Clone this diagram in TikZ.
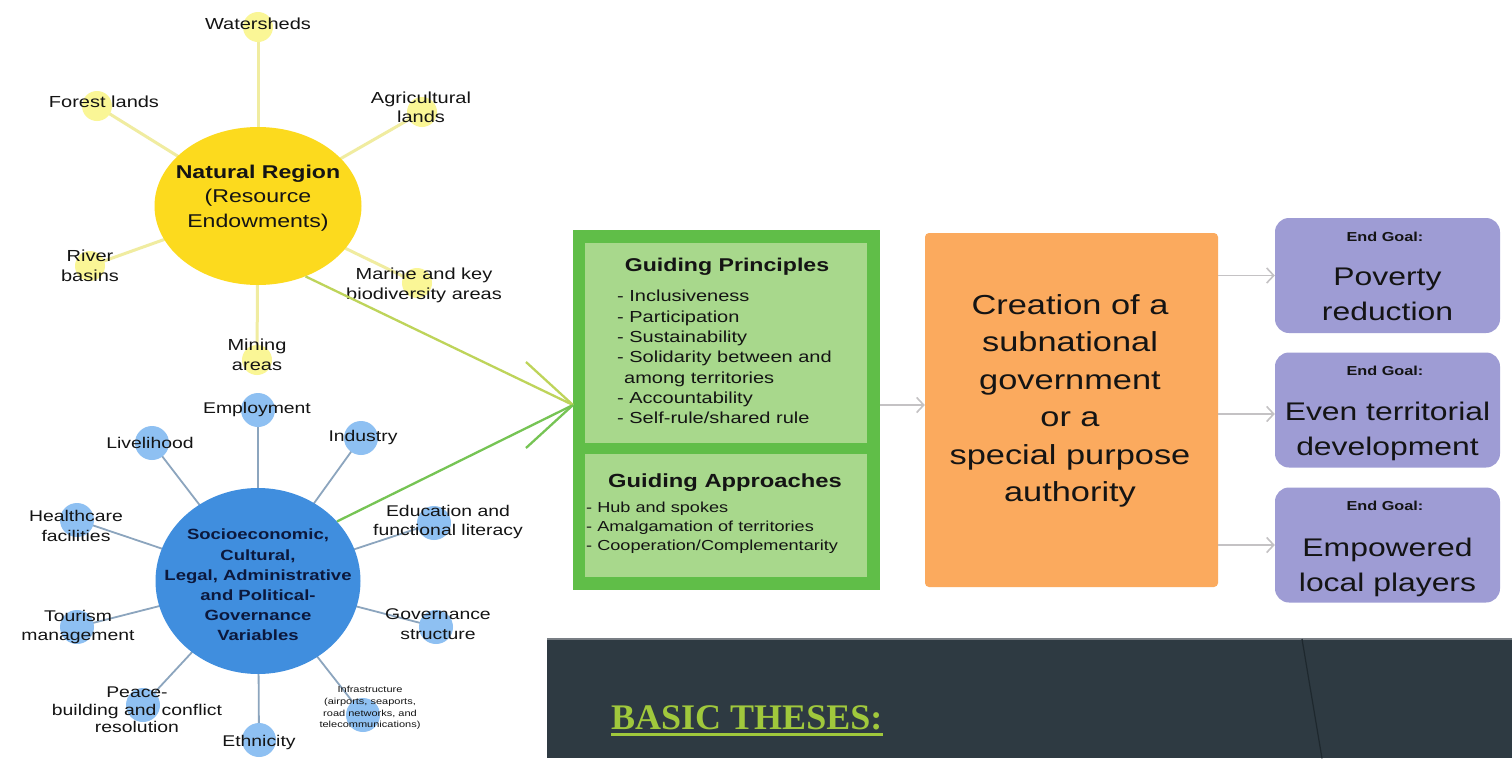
\documentclass[tikz,border=0pt]{standalone}
\usepackage{fontspec}
\setmainfont{Liberation Sans}[FakeStretch=1.25]
\newfontfamily\thesesfont{Liberation Serif}
\usetikzlibrary{arrows.meta,shapes.geometric}
\pgfdeclarelayer{paper}
\pgfdeclarelayer{bg}
\pgfsetlayers{paper,bg,main}
\newcommand\myfs[2]{\fontsize{#1}{#2}\selectfont}
\definecolor{yelbig}{RGB}{252,218,30}
\definecolor{yelsmall}{RGB}{250,246,150}
\definecolor{yelline}{RGB}{240,236,160}
\definecolor{bluebig}{RGB}{64,142,222}
\definecolor{bluesmall}{RGB}{142,192,242}
\definecolor{blueline}{RGB}{140,165,190}
\definecolor{navytext}{RGB}{12,24,60}
\definecolor{greenouter}{RGB}{96,190,72}
\definecolor{greeninner}{RGB}{168,216,140}
\definecolor{orangebox}{RGB}{251,170,94}
\definecolor{purplebox}{RGB}{158,156,212}
\definecolor{darkpanel}{RGB}{46,58,66}
\definecolor{panelline}{RGB}{30,40,46}
\definecolor{paneltop}{RGB}{120,126,132}
\definecolor{thesesgreen}{RGB}{160,200,60}
\definecolor{arrowgray}{RGB}{196,194,196}
\definecolor{linkyellow}{RGB}{190,212,90}
\definecolor{linkgreen}{RGB}{118,196,84}
\definecolor{txt}{RGB}{20,20,20}
\tikzset{
  ybig/.style={ellipse, fill=yelbig, minimum width=207pt, minimum height=158pt, inner sep=0pt},
  ysmall/.style={circle, fill=yelsmall, minimum size=30pt, inner sep=0pt},
  bbig/.style={ellipse, fill=bluebig, minimum width=205pt, minimum height=186pt, inner sep=0pt},
  bsmall/.style={circle, fill=bluesmall, minimum size=34pt, inner sep=0pt},
  ylink/.style={draw=yelline, line width=3pt},
  blink/.style={draw=blueline, line width=1.8pt},
  ylbl/.style={align=center, inner sep=0pt, text=txt, font=\myfs{16}{20}},
  blbl/.style={align=center, inner sep=0pt, text=txt, font=\myfs{15.5}{19.5}},
  panelbox/.style={rectangle, inner sep=0pt},
  flowarrow/.style={draw=arrowgray, line width=1.6pt, -{Straight Barb[length=7pt,width=15pt,line width=1.6pt]}},
  bigarm/.style={line width=2.3pt},
  goalbox/.style={rectangle, rounded corners=14pt, fill=purplebox, minimum width=225pt, minimum height=115pt, inner sep=0pt},
  goalhead/.style={inner sep=0pt, text=txt, font=\bfseries\myfs{13}{15}},
  goaltext/.style={inner sep=0pt, align=center, text=txt, font=\myfs{25.5}{35}},
}
\begin{document}
\begin{tikzpicture}[x=1pt,y=-1pt]
\useasboundingbox (0,0) rectangle (1512,758);
\begin{pgfonlayer}{paper}
\fill[white] (0,0) rectangle (1512,758);
\end{pgfonlayer}

% ---------- natural region cluster ----------
\node[ybig] (nr) at (258,206) {};
\node[ysmall] (ws) at (258,27) {};
\node[ysmall] (fl) at (97,106) {};
\node[ysmall] (ag) at (422,112) {};
\node[ysmall] (rb) at (90,266) {};
\node[ysmall] (ma) at (417,283) {};
\node[ysmall] (mi) at (257,360) {};
\node[align=center, inner sep=0pt, text=txt, font=\myfs{18.5}{24.5}] (nrt) at (258,198) {\textbf{Natural Region}\\(Resource\\Endowments)};
\node[ylbl] (wst) at (258,24) {Watersheds};
\node[ylbl] (flt) at (104,102) {Forest lands};
\node[ylbl, font=\myfs{16}{19}] (agt) at (421,107) {Agricultural\\lands};
\node[ylbl] (rbt) at (90,266) {River\\basins};
\node[ylbl] (mat) at (424,285) {Marine and key\\biodiversity areas};
\node[ylbl] (mit) at (257,355) {Mining\\areas};

% ---------- socioeconomic cluster ----------
\node[bbig] (sc) at (258,581) {};
\node[align=center, inner sep=0pt, text=navytext, font=\bfseries\myfs{14.8}{20.2}] (sct) at (258,585) {Socioeconomic,\\Cultural,\\Legal, Administrative\\and Political-\\Governance\\Variables};
\node[bsmall] (em) at (258,410) {};
\node[bsmall] (li) at (152,443) {};
\node[bsmall] (in) at (361,438) {};
\node[bsmall] (hc) at (77,520) {};
\node[bsmall] (ed) at (434,523) {};
\node[bsmall] (to) at (77,627) {};
\node[bsmall] (gv) at (436,627) {};
\node[bsmall] (pe) at (143,705) {};
\node[bsmall] (et) at (259,740) {};
\node[bsmall] (if) at (363,715) {};
\node[blbl] (emt) at (257,409) {Employment};
\node[blbl] (lit) at (150,443) {Livelihood};
\node[blbl] (int) at (363,437) {Industry};
\node[blbl] (edt) at (448,522) {Education and\\functional literacy};
\node[blbl] (hct) at (76,526) {Healthcare\\facilities};
\node[blbl] (tot) at (78,627) {Tourism\\management};
\node[blbl] (gvt) at (438,624) {Governance\\structure};
\node[blbl, font=\myfs{15.5}{17.5}] (pet) at (137,710) {Peace-\\building and conflict\\resolution};
\node[blbl] (ett) at (259,742) {Ethnicity};
\node[blbl, font=\myfs{8.8}{11.8}] (ift) at (370,708) {Infrastructure\\(airports, seaports,\\road networks, and\\telecommunications)};

% ---------- guiding box ----------
\node[panelbox, fill=greenouter, minimum width=307pt, minimum height=360pt] (gbox) at (726.5,410) {};
\node[panelbox, fill=greeninner, minimum width=282pt, minimum height=200pt] (gp) at (726,343) {};
\node[panelbox, fill=greeninner, minimum width=282pt, minimum height=123pt] (ga) at (726,515.5) {};
\node[inner sep=0pt, text=txt, font=\bfseries\myfs{18.5}{22}] (gpt) at (727,267) {Guiding Principles};
\node[anchor=west, align=left, inner sep=0pt, text=txt, font=\myfs{16}{20.3}] (gpl) at (617,357) {- Inclusiveness\\- Participation\\- Sustainability\\- Solidarity between and\\\hspace*{7pt}among territories\\- Accountability\\- Self-rule/shared rule};
\node[inner sep=0pt, text=txt, font=\bfseries\myfs{19}{22}] (gat) at (725,483) {Guiding Approaches};
\node[anchor=west, align=left, inner sep=0pt, text=txt, font=\myfs{14.5}{19}] (gal) at (586,528) {- Hub and spokes\\- Amalgamation of territories\\- Cooperation/Complementarity};

% ---------- creation box ----------
\node[panelbox, rounded corners=4pt, fill=orangebox, minimum width=293pt, minimum height=354pt] (obox) at (1071.5,410) {};
\node[align=center, inner sep=0pt, text=txt, font=\myfs{27.5}{37.5}] (obt) at (1070,401) {Creation of a\\subnational\\government\\or a\\special purpose\\authority};

% ---------- goals ----------
\node[goalbox] (g1) at (1387.5,275.5) {};
\node[goalbox] (g2) at (1387.5,410) {};
\node[goalbox] (g3) at (1387.5,545) {};
\node[goalhead] (g1h) at (1385,237) {End Goal:};
\node[goaltext] (g1t) at (1387.5,294) {Poverty\\reduction};
\node[goalhead] (g2h) at (1385,371) {End Goal:};
\node[goaltext] (g2t) at (1387.5,431) {Even territorial\\development};
\node[goalhead] (g3h) at (1385,506) {End Goal:};
\node[goaltext] (g3t) at (1387.5,567) {Empowered\\local players};

% ---------- bottom panel ----------
\node[panelbox, anchor=north west, fill=darkpanel, minimum width=965pt, minimum height=119pt] (panel) at (547,639) {};
\draw[paneltop, line width=1.5pt] (panel.north west) -- (panel.north east);
\draw[panelline, line width=1.2pt] ([xshift=755pt]panel.north west) -- ([xshift=775pt]panel.south west);
\node[anchor=base west, inner sep=0pt, text=thesesgreen, font=\thesesfont\bfseries\myfs{36}{40}] (th) at (611,729) {BASIC THESES:};
\draw[thesesgreen, line width=3pt] ([yshift=-5.5pt]th.base west) -- ([yshift=-5.5pt]th.base east);

% ---------- connectors ----------
\coordinate (tip) at (573,405);
\begin{pgfonlayer}{bg}
\foreach \n in {ws,fl,ag,rb,ma,mi} \draw[ylink] (nr.center) -- (\n.center);
\foreach \n in {em,li,in,hc,ed,to,gv,pe,et,if} \draw[blink] (sc.center) -- (\n.center);
\end{pgfonlayer}
\draw[linkyellow, bigarm] (nr.-56) -- (tip);
\draw[linkgreen, bigarm] (sc.37) -- (tip);
\draw[linkyellow, bigarm] (tip) -- ++(-47,-43);
\draw[linkgreen, bigarm] (tip) -- ++(-47,43);
\draw[flowarrow] ([yshift=5pt]gbox.east) -- ([yshift=5pt]obox.west);
\draw[flowarrow] (obox.east |- g1.west) -- (g1.west);
\draw[flowarrow] ([yshift=-4pt]obox.east |- g2.west) -- ([yshift=-4pt]g2.west);
\draw[flowarrow] (obox.east |- g3.west) -- (g3.west);
\end{tikzpicture}
\end{document}
